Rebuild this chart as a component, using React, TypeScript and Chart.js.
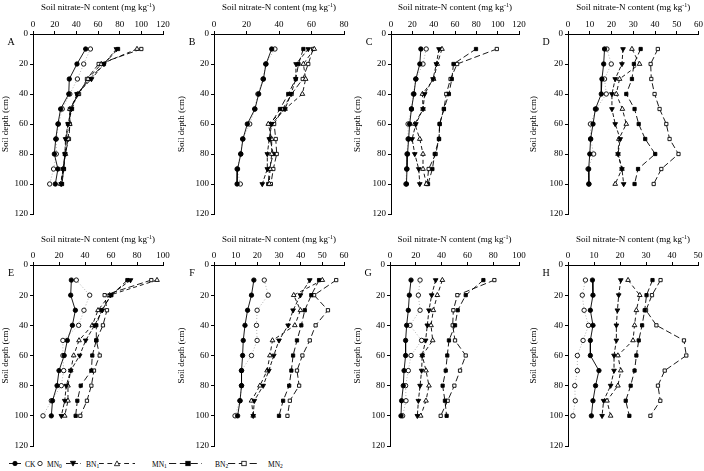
import React, { useEffect, useRef } from "react";
import { Chart, registerables } from "chart.js";
Chart.register(...registerables);

// ---------- data ----------
const depths = [10, 20, 30, 40, 50, 60, 70, 80, 90, 100];
const seriesNames = ["CK", "MN0", "BN1", "MN1", "BN2", "MN2"];
const panelLetters = ["A", "B", "C", "D", "E", "F", "G", "H"];
const xMaxes = [120, 80, 120, 60, 100, 60, 100, 50];
const xSteps = [20, 20, 20, 10, 20, 10, 20, 10];

const ckA = [48.6, 40.6, 33.5, 33, 25.5, 23, 21, 19.7, 23, 20.6];
const mn0A = [53, 46.8, 41, 34, 27, 23.5, 21.5, 21.5, 19, 15.4];
const bn1A = [77, 65.5, 54, 40.6, 35.4, 32.3, 30, 29.5, 27.7, 26];
const mn1A = [96, 63, 50.8, 41.5, 34, 34, 32.3, 30, 27.7, 25.5];
const bn2A = [78.5, 65.5, 52.3, 41, 36, 32.3, 30.8, 29.5, 28.3, 26.8];
const mn2A = [100, 60.6, 49.8, 42.5, 34, 34, 33.2, 29.5, 28.6, 26.2];

const ckB = [35.5, 32, 30.4, 27.5, 25.2, 20.5, 17.8, 16.5, 14.5, 14.2];
const mn0B = [37.5, 31.8, 30.2, 27, 25, 22, 17.6, 16.4, 14.2, 16.2];
const bn1B = [58, 50.5, 50.3, 47.4, 43.7, 35.5, 34, 32.8, 32.8, 29.7];
const mn1B = [61.7, 55, 56.4, 54.4, 43.7, 33.4, 35.5, 35.5, 34.5, 34];
const bn2B = [55, 52, 50.3, 45.7, 40.6, 34.9, 34.5, 36.5, 34, 33.4];
const mn2B = [61, 58, 54.6, 47.8, 42.3, 37, 38, 38.6, 36.5, 35];

const ckC = [28, 27, 23.3, 21.5, 19.2, 17.5, 16.5, 15.5, 15, 14.5];
const mn0C = [33, 30, 23.3, 21, 19.2, 16, 16, 15, 14.6, 14];
const bn1C = [45, 42.5, 39.4, 31.6, 30, 23.3, 19.8, 22.3, 26, 27];
const mn1C = [47.8, 43.4, 40, 29.5, 30, 22.3, 27, 30, 30, 33.2];
const bn2C = [79.7, 58.6, 57, 54.3, 49.6, 45.6, 45, 41, 38.8, 34.7];
const mn2C = [99.2, 62, 55.8, 51.8, 49.6, 45.6, 45, 41.9, 35.3, 33.8];

const ckD = [16.8, 16.4, 15.6, 15.3, 12.6, 11.5, 10.4, 10, 9.5, 9.6];
const mn0D = [17.9, 19.9, 16.8, 17.6, 13, 10.3, 10.4, 11.8, 9.2, 9.6];
const bn1D = [25.3, 24.8, 21.7, 20.2, 20.2, 21.7, 24, 23, 24.8, 25.6];
const mn1D = [29.4, 32.9, 23.7, 22.2, 25, 26.8, 23.4, 23, 24.8, 21.7];
const bn2D = [33.4, 30.3, 29.4, 26.8, 30.6, 32.5, 35.5, 40.1, 32.2, 30.6];
const mn2D = [41.3, 38, 38.3, 39.8, 42.1, 45.2, 46.7, 50.8, 42.9, 39.4];

const ckE = [29.5, 29, 32.6, 30.3, 26.4, 24, 20, 18.5, 15, 14.1];
const mn0E = [33.3, 43.6, 39.2, 35.1, 23, 23, 23.6, 21.8, 14.1, 7.7];
const bn1E = [75, 59.7, 53.3, 47.4, 40.5, 35.9, 29, 25.6, 24.4, 21.8];
const mn1E = [95.4, 59, 50, 45.6, 35.4, 31.3, 29, 26.9, 26.9, 24.4];
const bn2E = [72.6, 60.3, 52.6, 48.7, 48.7, 45.6, 44.9, 36.7, 34.1, 32.8];
const mn2E = [91, 55.1, 56.9, 53.8, 48.7, 51.3, 46.9, 44.9, 41.5, 36.4];

const ckF = [18.4, 17.3, 15.5, 14.3, 13.5, 13.2, 12.7, 12.7, 12, 10.9];
const mn0F = [23.2, 25, 19.9, 19.6, 19.9, 17.3, 12.7, 12.7, 12, 9.7];
const bn1F = [44.2, 39.9, 36.5, 34.2, 30, 27.6, 25.3, 22.7, 18.6, 18.1];
const mn1F = [50, 36.8, 39.9, 37.3, 27, 25.8, 24.5, 21.2, 17.3, 18.1];
const bn2F = [48.5, 44.9, 41.9, 40.3, 38.3, 36.5, 35.7, 34.7, 31.9, 30];
const mn2F = [56.4, 46.2, 52.6, 46.9, 44.2, 40.8, 38.3, 39.3, 35, 33.9];

const ckG = [16.3, 15, 14.2, 12.9, 12.1, 12.1, 10.9, 10.3, 9, 8.5];
const mn0G = [23.3, 22, 23.3, 15.5, 24.5, 16.3, 14.2, 12.1, 12.4, 9.8];
const bn1G = [35.4, 32.3, 30.2, 28.9, 27.6, 25, 24.5, 23.3, 22, 21.2];
const mn1G = [40.6, 36.7, 33.6, 31.8, 33.1, 25, 27.9, 30.2, 27.9, 23.8];
const bn2G = [72.4, 58.7, 52.5, 50.4, 45.7, 44.4, 43.2, 40.8, 42.6, 43.9];
const mn2G = [80.9, 52.2, 49.1, 48.6, 50.4, 58.7, 54.3, 49.9, 44.7, 39.3];

const ckH = [9.4, 9.6, 8.6, 9.6, 8.6, 8.6, 11.9, 10.6, 9.6, 9];
const mn0H = [6.7, 5.5, 6.2, 7.9, 5.8, 3.6, 3.6, 2.6, 2.8, 1.9];
const bn1H = [20.3, 19.5, 19, 18.6, 18.6, 17.7, 17.7, 16.4, 13.7, 13.1];
const mn1H = [23.1, 27.6, 26.3, 25.6, 25, 19.2, 20.3, 19.2, 15, 16.4];
const bn2H = [32.5, 30.2, 29.5, 28.5, 27.2, 26.3, 25.6, 24.1, 22.2, 23.6];
const mn2H = [35.6, 32.3, 30, 34, 44.6, 45.5, 37.2, 34.6, 35.5, 31.7];

const panelSeries = [
  [ckA, mn0A, bn1A, mn1A, bn2A, mn2A],
  [ckB, mn0B, bn1B, mn1B, bn2B, mn2B],
  [ckC, mn0C, bn1C, mn1C, bn2C, mn2C],
  [ckD, mn0D, bn1D, mn1D, bn2D, mn2D],
  [ckE, mn0E, bn1E, mn1E, bn2E, mn2E],
  [ckF, mn0F, bn1F, mn1F, bn2F, mn2F],
  [ckG, mn0G, bn1G, mn1G, bn2G, mn2G],
  [ckH, mn0H, bn1H, mn1H, bn2H, mn2H],
];

// ---------- layout & styles ----------
const FONT = "'Liberation Serif', 'Times New Roman', serif";
const colLefts = [0, 176, 352, 528];
const CELL_W = 176;
const rowTops = [0, 235];
const rowHeights = [235, 220];
const plotLefts = [33, 214, 391, 568, 33, 214, 390, 568];
const plotRights = [163, 344, 519, 699, 163, 344, 519, 698];
const plotTops = [34, 265];
const plotBottoms = [214, 446];
const titleYs = [8, 5];

const seriesStyles = [
  { style: "circle", rot: 0, fill: "#000", dash: [], lineColor: "#000", radius: 2.2 },
  { style: "circle", rot: 0, fill: "#fff", dash: [1, 2], lineColor: "#aaa", radius: 2.2 },
  { style: "triangle", rot: 180, fill: "#000", dash: [4, 2], lineColor: "#000", radius: 2.7 },
  { style: "triangle", rot: 0, fill: "#fff", dash: [4, 3], lineColor: "#000", radius: 2.7 },
  { style: "rect", rot: 0, fill: "#000", dash: [6, 3], lineColor: "#000", radius: 2.3 },
  { style: "rect", rot: 0, fill: "#fff", dash: [6, 3], lineColor: "#000", radius: 2.3 },
];

const titlePlugin = {
  id: "panelText",
  afterDraw(chart: any) {
    const opts = chart.options.plugins.panelText;
    const { ctx, chartArea } = chart;
    ctx.save();
    ctx.fillStyle = "#000";
    ctx.textBaseline = "middle";
    const main = "Soil nitrate-N content (mg kg";
    const sup = "-1";
    const end = ")";
    ctx.font = `9px ${FONT}`;
    const wMain = ctx.measureText(main).width;
    const wEnd = ctx.measureText(end).width;
    ctx.font = `6px ${FONT}`;
    const wSup = ctx.measureText(sup).width;
    const total = wMain + wSup + wEnd;
    const cx = (chartArea.left + chartArea.right) / 2;
    let x = cx - total / 2;
    const y = opts.titleY;
    ctx.textAlign = "left";
    ctx.font = `9px ${FONT}`;
    ctx.fillText(main, x, y);
    x += wMain;
    ctx.font = `6px ${FONT}`;
    ctx.fillText(sup, x, y - 3);
    x += wSup;
    ctx.font = `9px ${FONT}`;
    ctx.fillText(end, x, y);
    // panel letter
    ctx.font = `10px ${FONT}`;
    ctx.textAlign = "center";
    ctx.fillText(opts.letter, chartArea.left - 22, chartArea.top + 8);
    ctx.restore();
  },
};

function Panel({ idx }: { idx: number }) {
  const ref = useRef<HTMLCanvasElement>(null);
  const row = idx < 4 ? 0 : 1;
  const col = idx % 4;
  const left = colLefts[col];
  const top = rowTops[row];
  const h = rowHeights[row];
  useEffect(() => {
    const datasets = panelSeries[idx].map((vals, si) => {
      const s = seriesStyles[si];
      return {
        label: seriesNames[si],
        data: vals.map((v, i) => ({ x: v, y: depths[i] })),
        showLine: true,
        borderColor: s.lineColor,
        borderWidth: 0.9,
        borderDash: s.dash,
        pointStyle: s.style,
        pointRotation: s.rot,
        pointRadius: s.radius,
        pointBackgroundColor: s.fill,
        pointBorderColor: "#000",
        pointBorderWidth: 0.9,
        tension: 0,
      };
    });
    const yW = plotLefts[idx] - left;
    const xH = plotTops[row] - top;
    const chart = new Chart(ref.current as HTMLCanvasElement, {
      type: "scatter",
      data: { datasets: datasets as any },
      options: {
        animation: false,
        responsive: false,
        maintainAspectRatio: false,
        layout: {
          padding: {
            left: 0,
            top: 0,
            right: left + CELL_W - plotRights[idx],
            bottom: top + h - plotBottoms[row],
          },
        },
        plugins: {
          legend: { display: false },
          tooltip: { enabled: false },
          panelText: { titleY: titleYs[row], letter: panelLetters[idx] },
        } as any,
        scales: {
          x: {
            type: "linear",
            position: "top",
            min: 0,
            max: xMaxes[idx],
            ticks: {
              stepSize: xSteps[idx],
              color: "#000",
              font: { family: FONT, size: 9 },
              padding: 1,
              maxRotation: 0,
            },
            grid: { display: true, drawOnChartArea: false, drawTicks: true, tickLength: 3, color: "#000" },
            border: { display: true, color: "#000", width: 1 },
            afterFit: (s: any) => {
              s.height = xH;
            },
          },
          y: {
            type: "linear",
            reverse: true,
            min: 0,
            max: 120,
            ticks: {
              stepSize: 20,
              color: "#000",
              font: { family: FONT, size: 9 },
              padding: 2,
            },
            title: {
              display: true,
              text: "Soil depth (cm)",
              color: "#000",
              font: { family: FONT, size: 9 },
              padding: 0,
            },
            grid: { display: true, drawOnChartArea: false, drawTicks: true, tickLength: 3, color: "#000" },
            border: { display: true, color: "#000", width: 1 },
            afterFit: (s: any) => {
              s.width = yW;
            },
          },
        } as any,
      },
      plugins: [titlePlugin],
    });
    return () => chart.destroy();
  }, [idx]);
  return (
    <canvas
      ref={ref}
      width={CELL_W}
      height={h}
      style={{ position: "absolute", left, top, width: CELL_W, height: h }}
    />
  );
}

// legend positions
const legendMarkerX = [15, 40, 73, 117, 188, 244];
const legendLineFrom = [9, 40, 66, 99, 169, 228];
const legendLineTo = [21, 40, 81, 135, 202, 257];
const legendLabelX = [25, 47, 86, 152, 215, 268];
const LEGEND_TOP = 456;

function LegendMarker({ si, x, y }: { si: number; x: number; y: number }) {
  const s = seriesStyles[si];
  const fill = s.fill;
  if (s.style === "circle") return <circle cx={x} cy={y} r={2.2} fill={fill} stroke="#000" strokeWidth={0.8} />;
  if (s.style === "rect") return <rect x={x - 2.2} y={y - 2.2} width={4.4} height={4.4} fill={fill} stroke="#000" strokeWidth={0.8} />;
  const pts = s.rot === 180
    ? `${x - 2.6},${y - 2.2} ${x + 2.6},${y - 2.2} ${x},${y + 2.6}`
    : `${x - 2.6},${y + 2.2} ${x + 2.6},${y + 2.2} ${x},${y - 2.6}`;
  return <polygon points={pts} fill={fill} stroke="#000" strokeWidth={0.8} />;
}

function Legend() {
  return (
    <svg width={704} height={15} style={{ position: "absolute", left: 0, top: LEGEND_TOP }}>
      {seriesNames.map((name, si) => {
        const s = seriesStyles[si];
        const mx = legendMarkerX[si];
        const base = name === "CK" ? name : name.slice(0, -1);
        const sub = name === "CK" ? "" : name.slice(-1);
        const x1 = legendLineFrom[si];
        const x2 = legendLineTo[si];
        return (
          <g key={name}>
            {x2 > x1 && (
              <line
                x1={x1}
                x2={x2}
                y1={7.5}
                y2={7.5}
                stroke={s.lineColor}
                strokeWidth={0.9}
                strokeDasharray={s.dash.length ? s.dash.map((d) => d * 1.2).join(",") : undefined}
              />
            )}
            <LegendMarker si={si} x={mx} y={7.5} />
            <text x={legendLabelX[si]} y={10.5} fontFamily={FONT} fontSize={7.5} fill="#000">
              {base}
              {sub && (
                <tspan fontSize={5.5} dy={1.5}>
                  {sub}
                </tspan>
              )}
            </text>
          </g>
        );
      })}
    </svg>
  );
}

export default function App() {
  return (
    <div style={{ position: "absolute", left: 0, top: 0, width: 704, height: 471, background: "#fff", overflow: "hidden" }}>
      {panelLetters.map((_, i) => (
        <Panel key={i} idx={i} />
      ))}
      <Legend />
    </div>
  );
}
